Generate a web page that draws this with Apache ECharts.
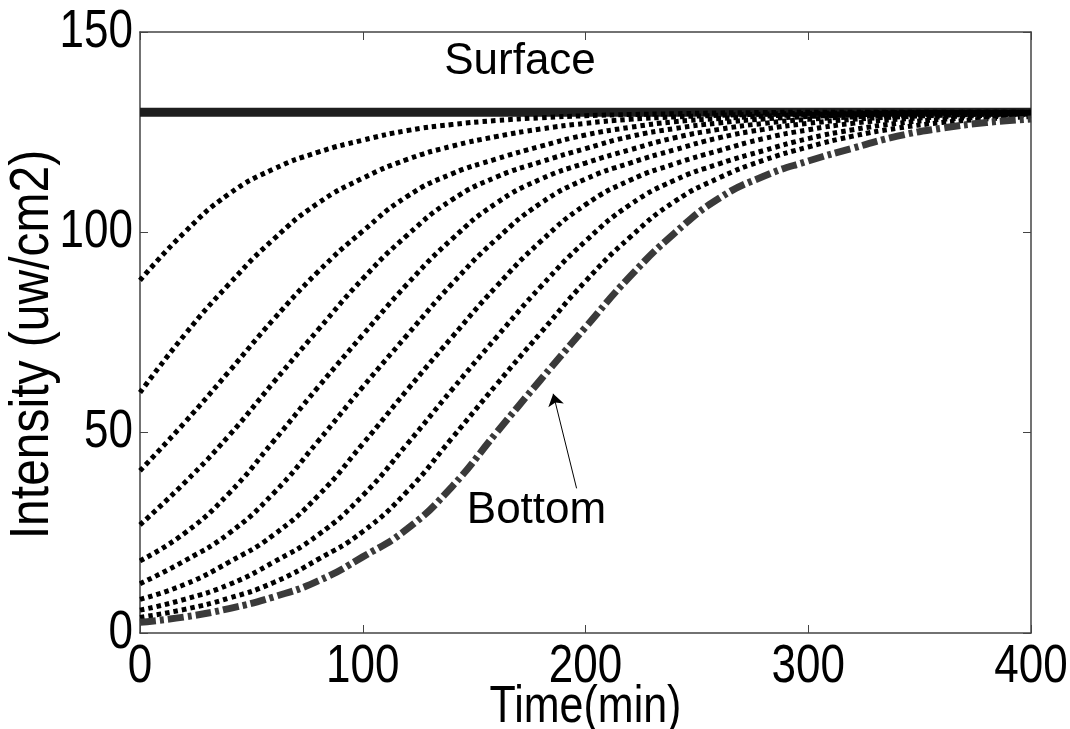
<!DOCTYPE html>
<html>
<head>
<meta charset="utf-8">
<script src="https://cdn.jsdelivr.net/npm/echarts@6/dist/echarts.min.js"></script>
<style>
html,body{margin:0;padding:0;background:#fff;}
#chart{width:1070px;height:729px;}
</style>
</head>
<body>
<div id="chart"></div>
<script>
// ---- data ----
const times = [0, 20, 40, 60, 80, 100, 120, 140, 160, 180, 200, 220, 240, 260, 280, 300, 320, 340, 360, 380, 400];
const xTicks = [0, 100, 200, 300, 400];
const yTicks = [0, 50, 100, 150];

const surface = [130, 130, 130, 130, 130, 130, 130, 130, 130, 130, 130, 130, 130, 130, 130, 130, 130, 130, 130, 130, 130];
const layer1 = [88, 100, 109.6, 115.8, 120.0, 123.0, 125.4, 126.9, 127.9, 128.6, 129.1, 129.4, 129.6, 129.8, 129.9, 130, 130, 130, 130, 130, 130];
const layer2 = [60, 74.4, 87.1, 98.3, 107.3, 113.5, 118.2, 121.5, 123.9, 125.8, 127.2, 128.2, 128.8, 129.2, 129.5, 129.7, 129.8, 129.9, 129.9, 130, 130];
const layer3 = [40.5, 52.5, 65.3, 78.3, 90.2, 100.3, 109.0, 114.6, 118.3, 121.5, 124.3, 126.2, 127.6, 128.4, 129.0, 129.4, 129.6, 129.8, 129.9, 129.9, 130];
const layer4 = [27.0, 37.5, 49.3, 62.6, 75.7, 88.4, 99.3, 108.1, 113.8, 117.6, 120.9, 123.9, 125.9, 127.3, 128.3, 128.9, 129.3, 129.6, 129.8, 129.9, 129.9];
const layer5 = [18.0, 24.9, 34.9, 47.9, 61.4, 74.4, 87.1, 98.3, 107.3, 113.3, 117.3, 120.6, 123.6, 125.7, 127.2, 128.2, 128.8, 129.2, 129.5, 129.7, 129.8];
const layer6 = [12.3, 18.0, 24.9, 34.9, 47.9, 61.4, 74.4, 87.1, 98.3, 107.3, 113.3, 117.3, 120.6, 123.6, 125.7, 127.2, 128.2, 128.8, 129.2, 129.5, 129.7];
const layer7 = [8.4, 12.1, 17.7, 24.5, 34.3, 47.2, 60.7, 73.8, 86.5, 97.8, 106.9, 113.0, 117.1, 120.4, 123.4, 125.6, 127.2, 128.2, 128.8, 129.2, 129.5];
const layer8 = [5.7, 8.4, 12.1, 17.7, 24.5, 34.3, 47.2, 60.7, 73.8, 86.5, 97.8, 106.9, 113.0, 117.1, 120.4, 123.4, 125.6, 127.2, 128.2, 128.8, 129.2];
const layer9 = [3.9, 5.9, 8.7, 12.6, 18.4, 25.3, 35.4, 48.6, 62.0, 75.0, 87.8, 98.8, 107.7, 113.6, 118.0, 121.3, 124.0, 126.0, 127.4, 128.3, 128.9];
const bottom = [2.7, 4.0, 6.1, 9.0, 13.0, 19.0, 26.0, 36.5, 50.0, 63.3, 76.3, 89.0, 99.8, 108.5, 114.0, 117.8, 121.0, 124.0, 126.0, 127.4, 128.3];

const dottedLayers = [layer1, layer2, layer3, layer4, layer5, layer6, layer7, layer8, layer9];

const xTitle = 'Time(min)';
const yTitle = 'Intensity (uw/cm2)';

// annotation anchors (data units)
const surfaceLabelAt = [170.6, 142.6];
const bottomLabelAt = [178, 30.5];
const arrowFrom = [196, 36.1];
const arrowTo = [185.5, 59.7];

// ---- chart ----
const SANS = "'Liberation Sans', Arial, Helvetica, sans-serif";
const pair = arr => times.map((t, i) => [t, arr[i]]);

const series = [];
series.push({
  type: 'line', data: pair(surface), showSymbol: false, silent: true, z: 2,
  lineStyle: { color: '#1e1e1e', width: 9, type: 'solid' }
});
dottedLayers.forEach(d => series.push({
  type: 'line', data: pair(d), showSymbol: false, silent: true, smooth: true, z: 3,
  lineStyle: { color: '#000', width: 5, type: [4.5, 4], cap: 'butt' }
}));
series.push({
  type: 'line', data: pair(bottom), showSymbol: false, silent: true, smooth: true, z: 4,
  lineStyle: { color: '#3a3a3a', width: 7, type: [16, 4, 4, 4], cap: 'butt' }
});
series.push({
  type: 'lines', coordinateSystem: 'cartesian2d', silent: true, z: 5,
  symbol: ['none', 'arrow'], symbolSize: [0, 12],
  lineStyle: { color: '#000', width: 1, opacity: 1 },
  data: [{ coords: [arrowFrom, arrowTo] }]
});
series.push({
  type: 'scatter', symbolSize: 0, silent: true, z: 6,
  itemStyle: { opacity: 1 },
  data: [{ value: surfaceLabelAt, name: 'Surface' }, { value: bottomLabelAt, name: 'Bottom' }],
  label: { show: true, position: 'inside', formatter: p => p.name, fontSize: 44, fontFamily: SANS, color: '#000', opacity: 1, textBorderWidth: 0 }
});

const axisLine = { show: true, onZero: false, lineStyle: { color: '#444', width: 1.5 } };
const tick = { show: true, inside: true, length: 8, lineStyle: { color: '#444', width: 1 } };

const option = {
  backgroundColor: '#fff',
  animation: false,
  grid: { left: 140, right: 39, top: 32, bottom: 96, containLabel: false, outerBoundsMode: 'none' },
  xAxis: [
    { type: 'value', min: 0, max: 400, interval: 100, position: 'bottom',
      axisLine, axisTick: tick, splitLine: { show: false }, axisLabel: { show: false } },
    { type: 'value', min: 0, max: 400, interval: 100, position: 'top',
      axisLine, axisTick: tick, splitLine: { show: false }, axisLabel: { show: false } }
  ],
  yAxis: [
    { type: 'value', min: 0, max: 150, interval: 50, position: 'left',
      axisLine, axisTick: tick, splitLine: { show: false }, axisLabel: { show: false } },
    { type: 'value', min: 0, max: 150, interval: 50, position: 'right',
      axisLine, axisTick: tick, splitLine: { show: false }, axisLabel: { show: false } }
  ],
  series
};

const chart = echarts.init(document.getElementById('chart'), null, { renderer: 'canvas' });
chart.setOption(option);

// Tick labels and axis titles: tall, condensed-looking text (as in the reference),
// placed at the axis positions that ECharts computes.
const TICK_FONT = 44, TICK_SY = 1.2;
const elements = [];
const x0 = chart.convertToPixel({ xAxisIndex: 0 }, 0);
const x1 = chart.convertToPixel({ xAxisIndex: 0 }, 400);
const y0 = chart.convertToPixel({ yAxisIndex: 0 }, 0);
const y1 = chart.convertToPixel({ yAxisIndex: 0 }, 150);
xTicks.forEach(v => {
  const px = chart.convertToPixel({ xAxisIndex: 0 }, v);
  elements.push({ type: 'text', x: px, y: y0 + 8, scaleY: TICK_SY, silent: true,
    style: { text: String(v), font: TICK_FONT + 'px ' + SANS, fill: '#000', align: 'center', verticalAlign: 'top' } });
});
yTicks.forEach(v => {
  const py = chart.convertToPixel({ yAxisIndex: 0 }, v);
  elements.push({ type: 'text', x: x0 - 7, y: py, scaleY: TICK_SY, silent: true,
    style: { text: String(v), font: TICK_FONT + 'px ' + SANS, fill: '#000', align: 'right', verticalAlign: 'middle' } });
});
elements.push({ type: 'text', x: (x0 + x1) / 2, y: y0 + 48, scaleY: 1.22, silent: true,
  style: { text: xTitle, font: '43px ' + SANS, fill: '#000', align: 'center', verticalAlign: 'top' } });
elements.push({ type: 'text', x: 33, y: (y0 + y1) / 2 + 12, rotation: Math.PI / 2, scaleY: 1.15, silent: true,
  style: { text: yTitle, font: '48px ' + SANS, fill: '#000', align: 'center', verticalAlign: 'middle' } });
chart.setOption({ graphic: { elements } });
</script>
</body>
</html>
